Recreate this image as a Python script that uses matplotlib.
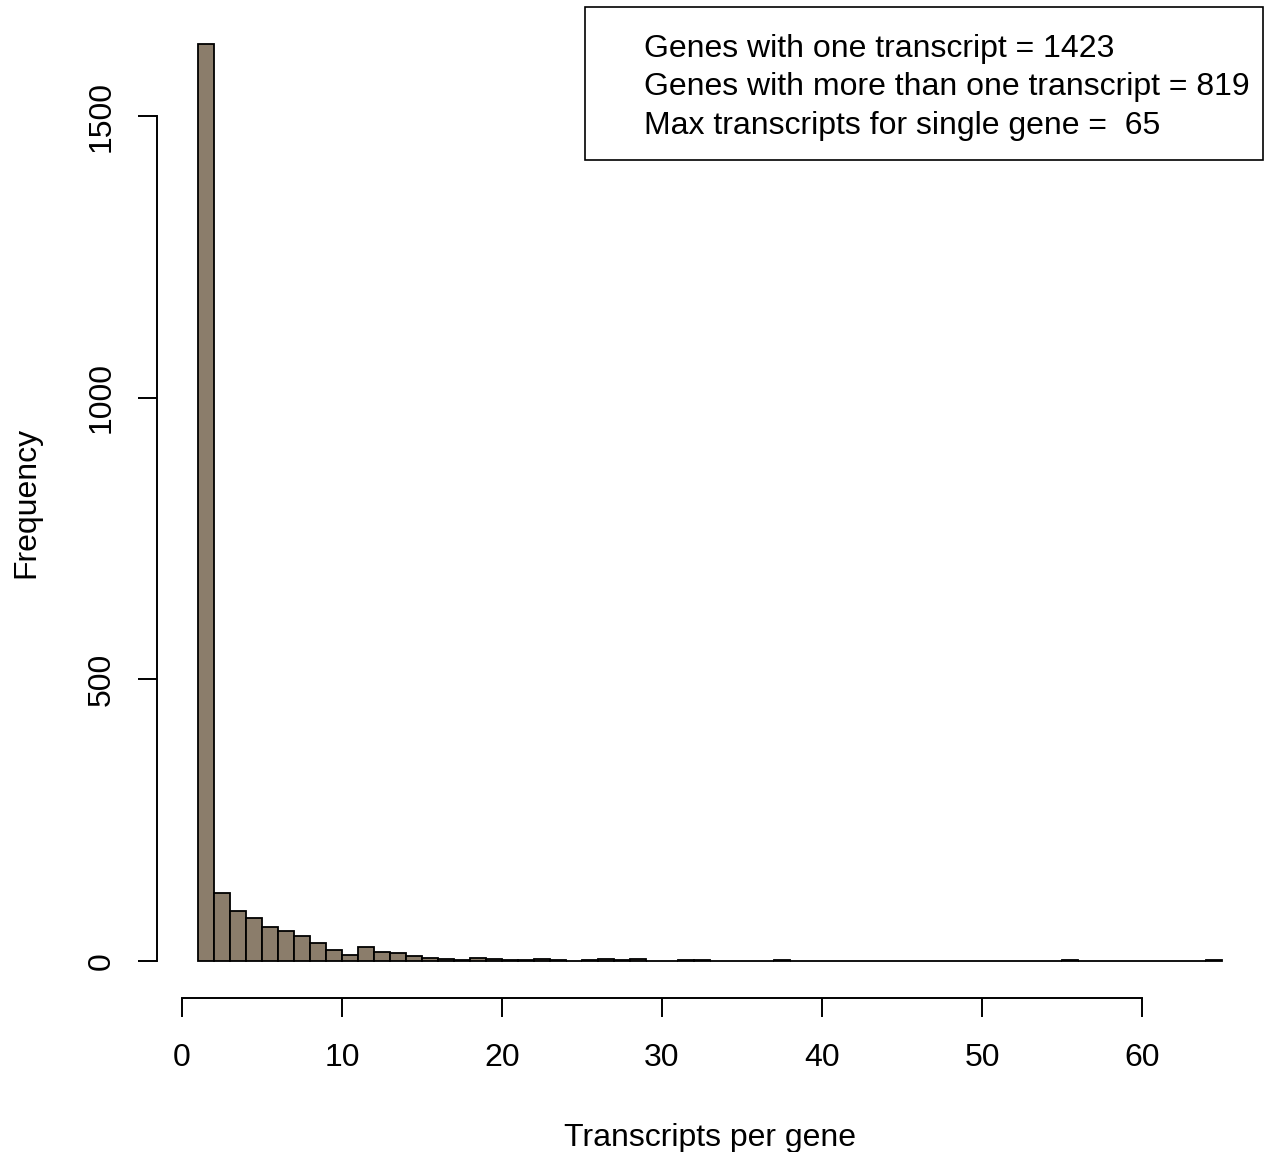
import numpy as np
import matplotlib
matplotlib.use('Agg')
import matplotlib.pyplot as plt
from matplotlib.patches import Rectangle

plt.rcParams['font.family'] = ['Liberation Sans', 'DejaVu Sans']

# histogram data, bins of width 1 from 1 to 65
bin_edges = np.arange(1, 66)
counts = [1629, 121, 89, 77, 60, 53, 45, 32, 19, 10,
          24, 15, 14, 9, 6, 4, 1, 5, 4, 2,
          2, 3, 2, 0, 1, 3, 2, 4, 0, 0,
          1, 2, 0, 0, 0, 0, 1, 0, 0, 0,
          0, 0, 0, 0, 0, 0, 0, 0, 0, 0,
          0, 0, 0, 0, 1, 0, 0, 0, 0, 0,
          0, 0, 0, 1]
xticks = [0, 10, 20, 30, 40, 50, 60]
yticks = [0, 500, 1000, 1500]
legend_lines = ["Genes with one transcript = 1423",
                "Genes with more than one transcript = 819",
                "Max transcripts for single gene =  65"]

W, H = 1268, 1152
fig = plt.figure(figsize=(W / 100, H / 100), dpi=100)
ax = fig.add_axes([157 / W, 1 - 997.6 / H, (1263 - 157) / W, (997.6 - 7) / H])

ax.bar(bin_edges[:-1], counts, width=1, align='edge',
       color='#8B7D6B', edgecolor='black', linewidth=1.3)

# R style 4% padding
x0, x1 = bin_edges[0], bin_edges[-1]
ax.set_xlim(x0 - 0.04 * (x1 - x0), x1 + 0.04 * (x1 - x0))
ymax = max(counts)
ax.set_ylim(-0.04 * ymax, 1.04 * ymax)

for s in ['top', 'right']:
    ax.spines[s].set_visible(False)
ax.spines['left'].set_bounds(0, 1500)
ax.spines['bottom'].set_bounds(0, 60)
for s in ['left', 'bottom']:
    ax.spines[s].set_linewidth(1.4)

ax.set_xticks(xticks)
ax.set_yticks(yticks)
ax.tick_params(length=14, width=1.4, labelsize=23)
ax.tick_params(axis='x', pad=19)
ax.tick_params(axis='y', pad=15)
for lab in ax.get_yticklabels():
    lab.set_rotation(90)
    lab.set_va('center')

fig.text(710 / W, 1 - 1146 / H, "Transcripts per gene", ha='center',
         va='baseline', fontsize=23)
fig.text(26 / W, 1 - 502 / H, "Frequency", ha='center', va='center',
         rotation=90, fontsize=23)

# legend box
fig.patches.append(Rectangle((585 / W, 1 - 160 / H), (1263 - 585) / W, (160 - 7) / H,
                             transform=fig.transFigure, fill=False,
                             edgecolor='black', linewidth=1.2))
for i, line in enumerate(legend_lines):
    fig.text(644 / W, 1 - (49 + 38.5 * i) / H, line, ha='left', va='center',
             fontsize=23)

fig.savefig('out.png', dpi=100)
